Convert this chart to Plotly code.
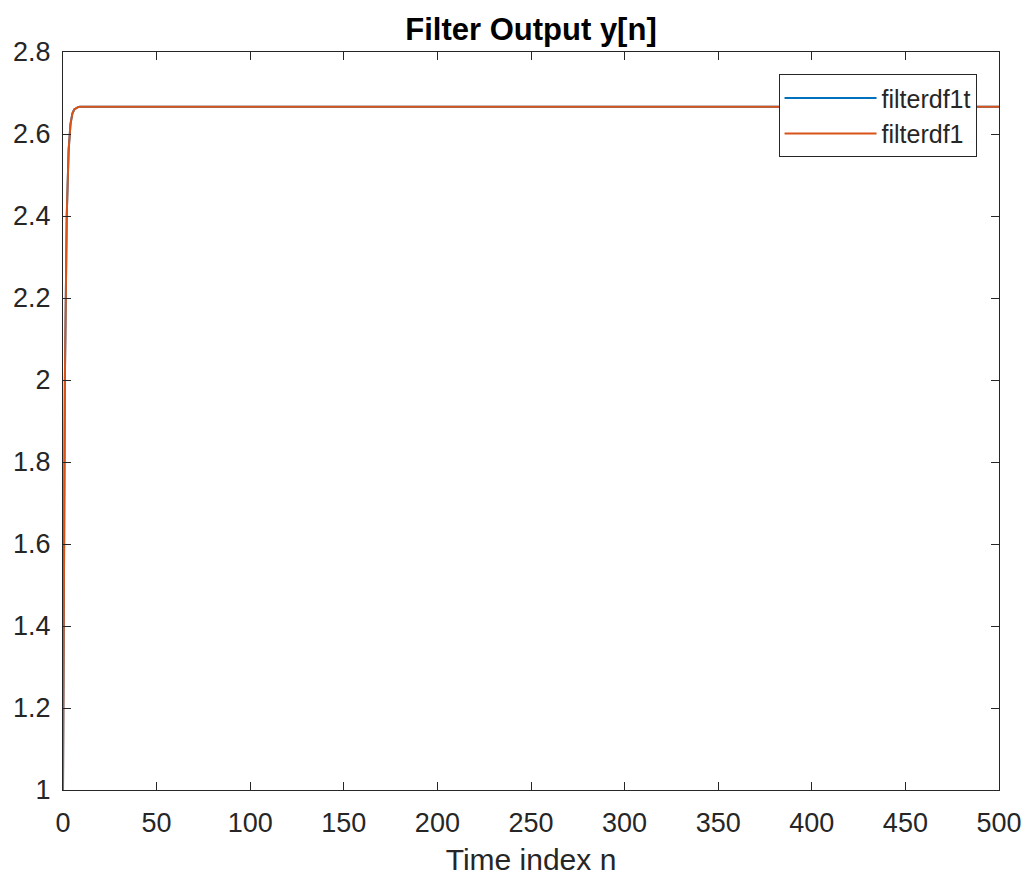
import plotly.graph_objects as go

# Filter output values (step response, settles at ~2.6667)
n_head = [0, 1, 2, 3, 4, 5, 6, 7, 8, 9, 10, 11, 12]
y_head = [1.0, 2.0, 2.4, 2.56, 2.624, 2.6496, 2.6598, 2.6639, 2.6656, 2.6662, 2.6665, 2.6666, 2.6667]
y_steady = 2.6667
n_last = 500

n = n_head + list(range(n_head[-1] + 1, n_last + 1))
y_df1t = y_head + [y_steady] * (len(n) - len(y_head))
y_df1 = list(y_df1t)

x_ticks = [0, 50, 100, 150, 200, 250, 300, 350, 400, 450, 500]
y_ticks = [1, 1.2, 1.4, 1.6, 1.8, 2, 2.2, 2.4, 2.6, 2.8]
y_ticklabels = ["1", "1.2", "1.4", "1.6", "1.8", "2", "2.2", "2.4", "2.6", "2.8"]

AX = "#262626"
FONT = "Liberation Sans, Arial, Helvetica, sans-serif"

fig = go.Figure()
fig.add_trace(go.Scatter(x=n, y=y_df1t, mode="lines", name="filterdf1t",
                         line=dict(color="#0072BD", width=2)))
fig.add_trace(go.Scatter(x=n, y=y_df1, mode="lines", name="filterdf1",
                         line=dict(color="#D95319", width=2)))

axis_common = dict(showline=True, linecolor=AX, linewidth=1, mirror="ticks",
                   ticks="inside", ticklen=8, tickcolor=AX, tickwidth=1,
                   showgrid=False, zeroline=False, automargin=False,
                   tickfont=dict(family=FONT, size=27, color=AX))

fig.update_layout(
    width=1027, height=876,
    margin=dict(l=63, r=28, t=52, b=86),
    paper_bgcolor="white", plot_bgcolor="white",
    title=dict(text="<b>Filter Output y[n]</b>", x=0.5, xanchor="center", xref="paper",
               y=1 - 29 / 876, yanchor="middle",
               font=dict(family=FONT, size=31, color="black")),
    xaxis=dict(range=[0, 500], tickvals=x_ticks, ticklabelstandoff=9,
               title=dict(text="Time index n", font=dict(family=FONT, size=30, color=AX), standoff=14),
               **axis_common),
    yaxis=dict(range=[1, 2.8], tickvals=y_ticks, ticktext=y_ticklabels,
               ticklabelstandoff=6, **axis_common),
    legend=dict(x=0.976, y=0.970, xanchor="right", yanchor="top",
                bgcolor="white", bordercolor=AX, borderwidth=1,
                font=dict(family=FONT, size=25, color=AX),
                itemwidth=92, tracegroupgap=0),
    showlegend=True,
)

fig.write_html("out.html")
